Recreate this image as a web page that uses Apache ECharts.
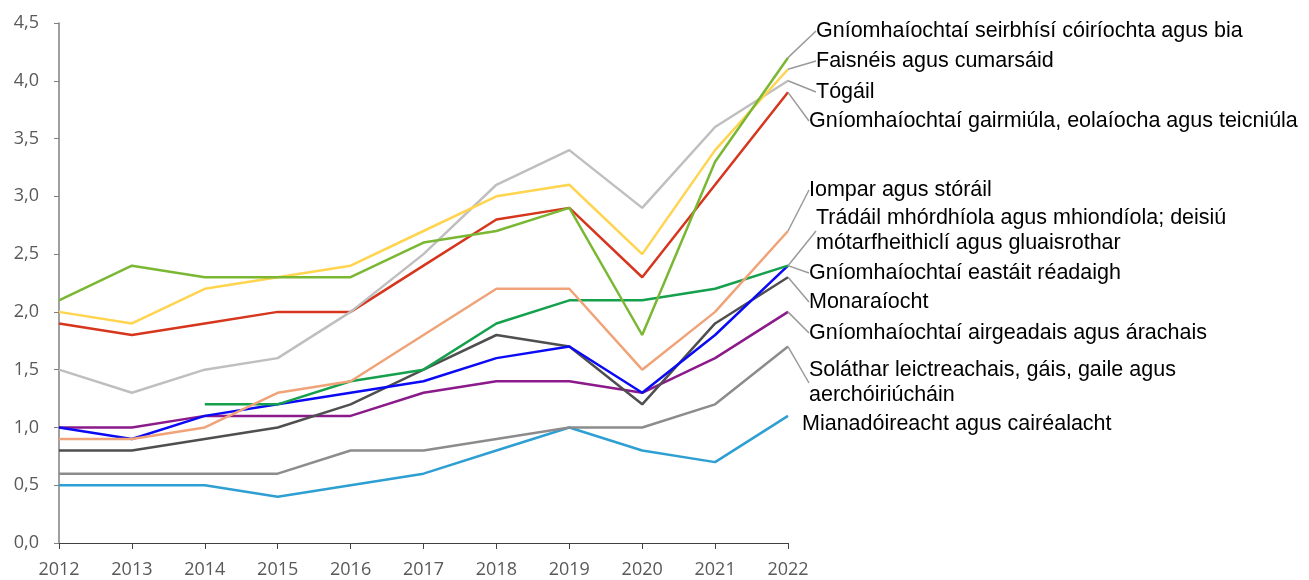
<!DOCTYPE html>
<html>
<head>
<meta charset="utf-8">
<script src="https://cdn.jsdelivr.net/npm/echarts@6/dist/echarts.min.js"></script>
<style>
  html, body { margin: 0; padding: 0; background: #fff; }
  #chart { width: 1309px; height: 580px; }
</style>
</head>
<body>
<div id="chart"></div>
<script>
// blianta
const years = ['2012', '2013', '2014', '2015', '2016', '2017', '2018', '2019', '2020', '2021', '2022'];

// earnálacha (ord na lipéad ar dheis)
const seriesNames = [
  'Gníomhaíochtaí seirbhísí cóiríochta agus bia',
  'Faisnéis agus cumarsáid',
  'Tógáil',
  'Gníomhaíochtaí gairmiúla, eolaíocha agus teicniúla',
  'Iompar agus stóráil',
  'Trádáil mhórdhíola agus mhiondíola; deisiú\nmótarfheithiclí agus gluaisrothar',
  'Gníomhaíochtaí eastáit réadaigh',
  'Monaraíocht',
  'Gníomhaíochtaí airgeadais agus árachais',
  'Soláthar leictreachais, gáis, gaile agus\naerchóiriúcháin',
  'Mianadóireacht agus cairéalacht'
];

const lineColors = ['#7ab733', '#ffd44f', '#bfbfbf', '#d5361d', '#f0a378', '#15a04d',
  '#0a0af5', '#4f4f4f', '#8b1a8b', '#8c8c8c', '#2e9fd2'];

// luachanna
const cooirfocht = [2.1, 2.4, 2.3, 2.3, 2.3, 2.6, 2.7, 2.9, 1.8, 3.3, 4.2];
const faisneis = [2.0, 1.9, 2.2, 2.3, 2.4, 2.7, 3.0, 3.1, 2.5, 3.4, 4.1];
const togail = [1.5, 1.3, 1.5, 1.6, 2.0, 2.5, 3.1, 3.4, 2.9, 3.6, 4.0];
const gairmiula = [1.9, 1.8, 1.9, 2.0, 2.0, 2.4, 2.8, 2.9, 2.3, 3.1, 3.9];
const iompar = [0.9, 0.9, 1.0, 1.3, 1.4, 1.8, 2.2, 2.2, 1.5, 2.0, 2.7];
const tradail = [null, null, 1.2, 1.2, 1.4, 1.5, 1.9, 2.1, 2.1, 2.2, 2.4];
const eastait = [1.0, 0.9, 1.1, 1.2, 1.3, 1.4, 1.6, 1.7, 1.3, 1.8, 2.4];
const monaraiocht = [0.8, 0.8, 0.9, 1.0, 1.2, 1.5, 1.8, 1.7, 1.2, 1.9, 2.3];
const airgeadais = [1.0, 1.0, 1.1, 1.1, 1.1, 1.3, 1.4, 1.4, 1.3, 1.6, 2.0];
const solathar = [0.6, 0.6, 0.6, 0.6, 0.8, 0.8, 0.9, 1.0, 1.0, 1.2, 1.7];
const mianadoireacht = [0.5, 0.5, 0.5, 0.4, 0.5, 0.6, 0.8, 1.0, 0.8, 0.7, 1.1];

const seriesValues = [cooirfocht, faisneis, togail, gairmiula, iompar, tradail,
  eastait, monaraiocht, airgeadais, solathar, mianadoireacht];

// ionad na lipéad ar dheis [x, y]
const labelPos = [
  [816, 31], [816, 61], [816, 92], [809, 121],
  [809, 190], [816, 231], [809, 273], [809, 302],
  [809, 333], [809, 383], [802, 424]
];

const chart = echarts.init(document.getElementById('chart'));

const series = seriesValues.map((vals, i) => ({
  name: seriesNames[i],
  type: 'line',
  data: vals.map((v, j) => j === vals.length - 1
    ? { value: v, label: { show: true, formatter: seriesNames[i] } }
    : v),
  symbol: 'circle',
  symbolSize: 0,
  showSymbol: true,
  showAllSymbol: true,
  connectNulls: false,
  lineStyle: { width: 2.5, color: lineColors[i] },
  itemStyle: { color: lineColors[i] },
  label: {
    show: false,
    color: '#000',
    fontFamily: '"Liberation Sans", Arial, sans-serif',
    fontSize: 21.5,
    lineHeight: 25
  },
  labelLine: {
    show: i !== seriesValues.length - 1,
    lineStyle: { color: '#9a9a9a', width: 1.5 }
  },
  labelLayout: () => ({
    x: labelPos[i][0],
    y: labelPos[i][1],
    align: 'left',
    verticalAlign: 'middle'
  }),
  emphasis: { disabled: true },
  z: 10 - i
}));

chart.setOption({
  animation: false,
  grid: { left: 59, right: 521, top: 23, bottom: 37 },
  xAxis: {
    type: 'category',
    data: years,
    boundaryGap: false,
    axisLine: { lineStyle: { color: '#404040', width: 1 } },
    axisTick: { show: true, length: 6, lineStyle: { color: '#404040' } },
    axisLabel: {
      color: '#595959',
      fontFamily: '"Open Sans", sans-serif',
      fontSize: 18,
      margin: 18
    }
  },
  yAxis: {
    type: 'value',
    min: 0,
    max: 4.5,
    interval: 0.5,
    splitLine: { show: false },
    axisLine: { show: true, lineStyle: { color: '#7f7f7f', width: 1.5 } },
    axisTick: { show: true, length: 5, lineStyle: { color: '#7f7f7f' } },
    axisLabel: {
      color: '#595959',
      fontFamily: '"Open Sans", sans-serif',
      fontSize: 18,
      margin: 20,
      formatter: (v) => v.toFixed(1).replace('.', ',')
    }
  },
  series: series
});
</script>
</body>
</html>
